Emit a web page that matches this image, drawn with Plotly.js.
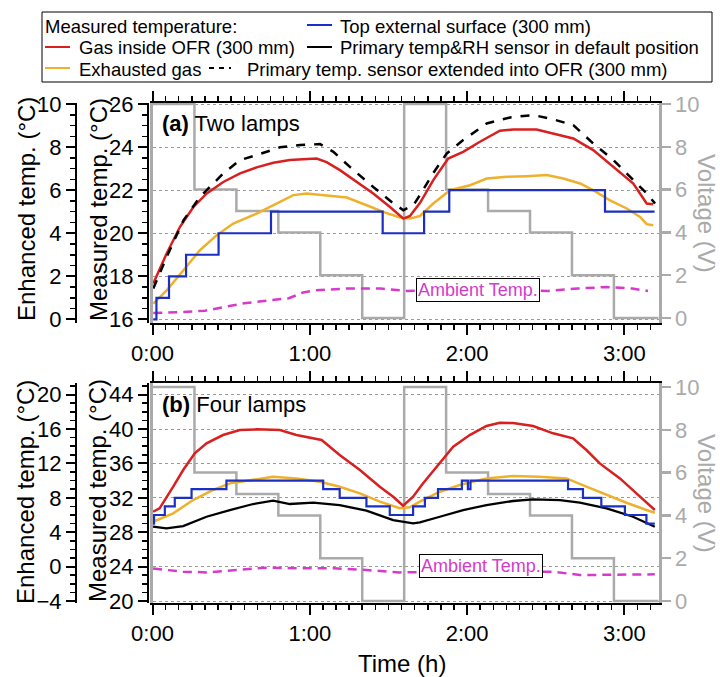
<!DOCTYPE html>
<html>
<head>
<meta charset="utf-8">
<script src="https://cdn.plot.ly/plotly-3.0.1.min.js"></script>
<style>html,body{margin:0;padding:0;background:#fff;}#chart{width:720px;height:677px;}</style>
</head>
<body>
<div id="chart"></div>
<script>
// ---------- DATA (time in minutes) ----------
const timeTickVals = [0, 60, 120, 180];
const timeTickText = ['0:00', '1:00', '2:00', '3:00'];

// lamp voltage steps (same programme in both panels)
const tVolt = [0, 16, 32, 48, 64, 80, 96, 112, 128, 144, 160, 176, 193];
const vVolt = [10, 6, 5, 4, 2, 0, 10, 6, 5, 4, 2, 0, 0];

// ---- Panel (a) Two lamps ----
const tRedA = [0.3, 5.4, 10.5, 15.6, 20.7, 27, 33.4, 39.7, 46.1, 52.4, 62.6, 66.4, 71.5, 77.9, 84.2, 90.6, 95.7, 98.2, 102, 107.1, 112.8, 118.5, 124.9, 132.5, 137.6, 146.5, 152.9, 160.5, 168.1, 175.8, 183.4, 188.5, 191];
const redA  = [17.66, 19.06, 20.3, 21.22, 21.85, 22.38, 22.78, 23.06, 23.27, 23.4, 23.47, 23.3, 22.93, 22.38, 21.85, 21.22, 20.68, 20.8, 21.4, 22.47, 23.47, 23.78, 24.25, 24.76, 24.82, 24.82, 24.64, 24.4, 23.86, 23.08, 22.31, 21.38, 21.35];

const tDashA = [0.3, 5.4, 11.8, 18.1, 27, 33.4, 39.7, 48.6, 56.3, 63.9, 69, 75.3, 84.2, 91.9, 95.7, 99.5, 102, 107.1, 112.2, 118.5, 127.5, 136.4, 145.3, 152.9, 160.5, 168.1, 175.8, 183.4, 188.5, 191.7];
const dashA  = [17.43, 18.9, 20.6, 21.69, 22.78, 23.4, 23.63, 23.99, 24.1, 24.14, 23.78, 23.08, 22.15, 21.38, 21.07, 21.3, 21.77, 22.8, 23.7, 24.33, 25.1, 25.38, 25.49, 25.29, 25.02, 24.17, 23.4, 22.47, 21.85, 21.38];

const tGoldA = [0.3, 5.4, 11.8, 18.1, 24.5, 30.8, 39.7, 48.6, 53.7, 58.8, 66.4, 74.1, 81.7, 88, 94.4, 98.2, 102, 107.1, 113.5, 121.1, 127.5, 135.1, 142.7, 150.4, 156.7, 163.1, 168.1, 174.5, 180.9, 186, 188.5, 191];
const goldA  = [16.73, 17.35, 18.28, 19.21, 19.91, 20.45, 20.91, 21.46, 21.77, 21.85, 21.77, 21.66, 21.3, 20.99, 20.73, 20.68, 20.8, 21.38, 22.0, 22.23, 22.54, 22.62, 22.65, 22.7, 22.54, 22.31, 22.0, 21.53, 21.15, 20.76, 20.42, 20.37];

const tBlueA = [0.3, 1.5, 6.3, 12.8, 25.2, 45.2, 87.8, 103.6, 113.2, 172.6, 191.5];
const blueA  = [16, 17, 18, 19, 20, 21, 20, 21, 22, 21, 21];

const tAmbA = [0.3, 10, 20, 27, 35, 44, 52, 57.5, 62, 74, 87, 97, 110, 125, 140, 151, 162, 173, 183, 189];
const ambA  = [16.3, 16.33, 16.4, 16.55, 16.75, 16.87, 16.98, 17.25, 17.35, 17.43, 17.43, 17.32, 17.35, 17.38, 17.35, 17.32, 17.43, 17.5, 17.43, 17.32];

// ---- Panel (b) Four lamps ----
const tRedB = [0.2, 2.7, 7.9, 11.7, 16.1, 20.6, 26.9, 33.3, 39.7, 48.6, 54.9, 64.5, 71.4, 79.1, 86.7, 91.8, 95.6, 99.4, 103, 109.6, 114.7, 121, 127.4, 132.5, 137.5, 145.2, 152.8, 160.4, 165.5, 170.6, 178.3, 184.6, 191.6];
const redB  = [30.38, 30.78, 33.29, 35.23, 37.17, 38.34, 39.3, 39.88, 39.96, 39.88, 39.3, 38.72, 36.98, 35.23, 33.29, 32.13, 31.08, 32.13, 33.6, 36.0, 37.94, 39.3, 40.35, 40.73, 40.69, 40.35, 39.5, 38.91, 37.56, 36.0, 34.26, 32.52, 30.58];

const tGoldB = [0.2, 7.9, 15.5, 23.1, 29.5, 37.1, 46, 54.9, 63.8, 71.4, 79.1, 86.7, 94.3, 98.1, 102, 109.6, 117.2, 127.4, 137.5, 147.7, 157.9, 165.5, 173.2, 180.8, 188.4, 191.6];
const goldB  = [29.22, 30.2, 31.74, 32.91, 33.68, 34.07, 34.45, 34.26, 33.87, 33.29, 32.52, 31.55, 30.78, 30.9, 31.55, 32.71, 33.49, 34.26, 34.53, 34.45, 34.26, 33.29, 32.33, 31.43, 30.58, 30.27];

const tBlackB = [0.2, 5.3, 11.7, 20.6, 29.5, 38.4, 46, 52.4, 61.3, 71.4, 81.6, 91.8, 99.4, 102, 109.6, 118.5, 127.4, 137.5, 145.2, 155.4, 163, 173.2, 183.3, 191.6];
const blackB  = [28.64, 28.45, 28.72, 29.8, 30.58, 31.28, 31.66, 31.28, 31.43, 31.16, 30.5, 29.42, 29.03, 29.15, 29.8, 30.58, 31.16, 31.63, 31.83, 31.74, 31.43, 30.78, 29.8, 28.64];

const tBlueB = [0.2, 0.6, 4.7, 8.5, 14.9, 28.2, 65.1, 71.4, 81.6, 90.5, 99.4, 103.9, 108.9, 118, 120.3, 121.3, 158.5, 164.2, 171.2, 180.2, 188.4, 191.6];
const blueB  = [29, 30, 31, 32, 33, 34, 33, 32, 31, 30, 31, 32, 33, 34, 33, 34, 33, 32, 31, 30, 29, 29];

const tAmbB = [0.2, 11.7, 20.6, 33.3, 43.5, 56.2, 68.9, 81.6, 94.3, 110, 130, 152.8, 163, 173.2, 183.3, 191.6];
const ambB  = [23.77, 23.41, 23.33, 23.6, 23.88, 23.8, 23.8, 23.6, 23.33, 23.4, 23.4, 23.41, 23.02, 23.02, 23.02, 23.1];

// ---------- STYLE ----------
const FONT = 'Liberation Sans, Arial, Helvetica, sans-serif';
const C_RED = '#d7201f', C_GOLD = '#efb12c', C_BLUE = '#1b2fc4', C_BLACK = '#000000',
      C_GRAY = '#aaaaaa', C_MAG = '#d63acb';
const W = 720, H = 677;
const px = x => x / W;
const py = y => 1 - y / H;

function line(x, y, xa, ya, color, width, dash, shape) {
  return {type: 'scatter', mode: 'lines', x: x, y: y, xaxis: xa, yaxis: ya,
          line: {color: color, width: width, dash: dash || 'solid', shape: shape || 'linear'},
          showlegend: false, hoverinfo: 'skip'};
}
// empty traces so that the offset "Enhanced temp." axes get drawn
function axisHolder(xa, ya) {
  return {type: 'scatter', mode: 'lines', x: [], y: [], xaxis: xa, yaxis: ya, showlegend: false, hoverinfo: 'skip'};
}

const data = [
  // panel a
  line(tVolt, vVolt, 'x', 'y', C_GRAY, 2.5, 'solid', 'hv'),
  line(tAmbA, ambA, 'x', 'y2', C_MAG, 2.5, '9px,6px'),
  line(tGoldA, goldA, 'x', 'y2', C_GOLD, 2.5),
  line(tBlueA, blueA, 'x', 'y2', C_BLUE, 2.2, 'solid', 'hv'),
  line(tRedA, redA, 'x', 'y2', C_RED, 2.5),
  line(tDashA, dashA, 'x', 'y2', C_BLACK, 2.5, 'dash'),
  axisHolder('x', 'y3'),
  // panel b
  line(tVolt, vVolt, 'x2', 'y4', C_GRAY, 2.5, 'solid', 'hv'),
  line(tAmbB, ambB, 'x2', 'y5', C_MAG, 2.5, '9px,6px'),
  line(tGoldB, goldB, 'x2', 'y5', C_GOLD, 2.5),
  line(tBlackB, blackB, 'x2', 'y5', C_BLACK, 2.3),
  line(tBlueB, blueB, 'x2', 'y5', C_BLUE, 2.2, 'solid', 'hv'),
  line(tRedB, redB, 'x2', 'y5', C_RED, 2.5),
  axisHolder('x2', 'y6')
];

const xDomain = [px(152.5), px(659)];
const tickF = {family: FONT, size: 22, color: '#000'};

function xAxis(anchor) {
  return {domain: xDomain, anchor: anchor, range: [0, 193.2],
    tickmode: 'array', tickvals: timeTickVals, ticktext: timeTickText,
    ticks: 'outside', ticklen: 10, tickwidth: 2, tickcolor: '#000',
    minor: {tickmode: 'linear', tick0: 0, dtick: 5, ticks: 'outside', ticklen: 5, tickwidth: 1.5, tickcolor: '#000'},
    showline: true, linecolor: '#000', linewidth: 2, mirror: 'ticks',
    showgrid: false, zeroline: false, tickfont: tickF};
}
function voltAxis(domain, anchor, range) {
  return {domain: domain, anchor: anchor, side: 'right', range: range,
    tickmode: 'array', tickvals: [0, 2, 4, 6, 8, 10],
    ticks: 'outside', ticklen: 9, tickwidth: 2.5, tickcolor: C_GRAY,
    showline: true, linecolor: C_GRAY, linewidth: 2.5, mirror: true,
    showgrid: false, zeroline: false,
    tickfont: {family: FONT, size: 22, color: C_GRAY}};
}
function tempAxis(over, pos, range, tick0, dtick, mdtick, grid) {
  return {overlaying: over, anchor: 'free', position: pos, side: 'left', range: range,
    tickmode: 'linear', tick0: tick0, dtick: dtick,
    ticks: 'outside', ticklen: 9, tickwidth: 2, tickcolor: '#000',
    minor: {tickmode: 'linear', tick0: tick0, dtick: mdtick, ticks: 'outside', ticklen: 5, tickwidth: 1.5, tickcolor: '#000'},
    showline: true, linecolor: '#000', linewidth: 2,
    showgrid: grid, gridcolor: '#9a9a9a', griddash: 'dot', gridwidth: 1,
    zeroline: false, tickfont: tickF};
}

const domA = [py(323), py(103)];
const domB = [py(603), py(383)];

const layout = {
  width: W, height: H,
  margin: {l: 0, r: 0, t: 0, b: 0},
  paper_bgcolor: '#fff', plot_bgcolor: 'rgba(0,0,0,0)',
  font: {family: FONT, color: '#000'},
  showlegend: false,
  xaxis: xAxis('y'),
  yaxis: voltAxis(domA, 'x', [-0.234, 10.047]),
  yaxis2: tempAxis('y', px(148), [15.83, 26.05], 16, 2, 0.5, true),
  yaxis3: tempAxis('y', px(76), [-0.17, 10.05], 0, 2, 0.5, false),
  xaxis2: xAxis('y4'),
  yaxis4: voltAxis(domB, 'x2', [-0.093, 10.187]),
  yaxis5: tempAxis('y4', px(148), [19.77, 45.35], 20, 4, 1, true),
  yaxis6: tempAxis('y4', px(76), [-4.23, 21.35], -4, 4, 1, false),
  shapes: [],
  annotations: []
};

function ann(text, x, y, opts) {
  return Object.assign({text: text, xref: 'paper', yref: 'paper', x: px(x), y: py(y),
    xanchor: 'center', yanchor: 'middle', showarrow: false,
    font: {family: FONT, size: 22, color: '#000'}}, opts || {});
}
const A = layout.annotations;
// axis titles
A.push(ann('Enhanced temp. (°C)', 26, 209, {textangle: -90, font: {family: FONT, size: 24, color: '#000'}}));
A.push(ann('Measured temp. (°C)', 99, 210, {textangle: -90, font: {family: FONT, size: 24, color: '#000'}}));
A.push(ann('Enhanced temp. (°C)', 25, 492, {textangle: -90, font: {family: FONT, size: 24, color: '#000'}}));
A.push(ann('Measured temp. (°C)', 97, 491, {textangle: -90, font: {family: FONT, size: 24, color: '#000'}}));
A.push(ann('Voltage (V)', 707, 213, {textangle: 90, font: {family: FONT, size: 24, color: C_GRAY}}));
A.push(ann('Voltage (V)', 707, 493, {textangle: 90, font: {family: FONT, size: 24, color: C_GRAY}}));
A.push(ann('Time (h)', 402, 663, {font: {family: FONT, size: 24, color: '#000'}}));
// panel labels
A.push(ann('<b>(a)</b> Two lamps', 160, 123, {xanchor: 'left'}));
A.push(ann('<b>(b)</b> Four lamps', 160, 404, {xanchor: 'left'}));
// ambient labels
const ambOpts = {font: {family: FONT, size: 18, color: C_MAG}, bgcolor: '#fff', bordercolor: '#000', borderwidth: 1, borderpad: 1};
A.push(ann('Ambient Temp.', 478, 290, ambOpts));
A.push(ann('Ambient Temp.', 481, 566, ambOpts));

// legend (text + samples)
const legF = {family: FONT, size: 18.5, color: '#000'};
const rows = [26, 48, 69];
A.push(ann('Measured temperature:', 43, rows[0], {xanchor: 'left', font: legF}));
A.push(ann('Top external surface (300 mm)', 338, rows[0], {xanchor: 'left', font: legF}));
A.push(ann('Gas inside OFR (300 mm)', 77, rows[1], {xanchor: 'left', font: legF}));
A.push(ann('Primary temp&amp;RH sensor in default position', 338, rows[1], {xanchor: 'left', font: legF}));
A.push(ann('Exhausted gas', 77, rows[2], {xanchor: 'left', font: legF}));
A.push(ann('Primary temp. sensor extended into OFR (300 mm)', 245, rows[2], {xanchor: 'left', font: legF}));

const S = layout.shapes;
S.push({type: 'rect', xref: 'paper', yref: 'paper', x0: px(42), x1: px(712), y0: py(82), y1: py(12),
        line: {color: '#000', width: 1}, fillcolor: 'rgba(0,0,0,0)'});
function sample(x0, x1, y, color, dash) {
  S.push({type: 'line', xref: 'paper', yref: 'paper', x0: px(x0), x1: px(x1), y0: py(y), y1: py(y),
          line: {color: color, width: 2, dash: dash || 'solid'}});
}
sample(307, 332, rows[0] - 1, C_BLUE);
sample(45, 70, rows[1] - 1, C_RED);
sample(307, 332, rows[1] - 1, C_BLACK);
sample(45, 70, rows[2] - 1, C_GOLD);
sample(209, 240, rows[2] - 1, C_BLACK, '5px,5px,5px,5px,2px,10px');

Plotly.newPlot('chart', data, layout, {staticPlot: true, displayModeBar: false});
</script>
</body>
</html>
